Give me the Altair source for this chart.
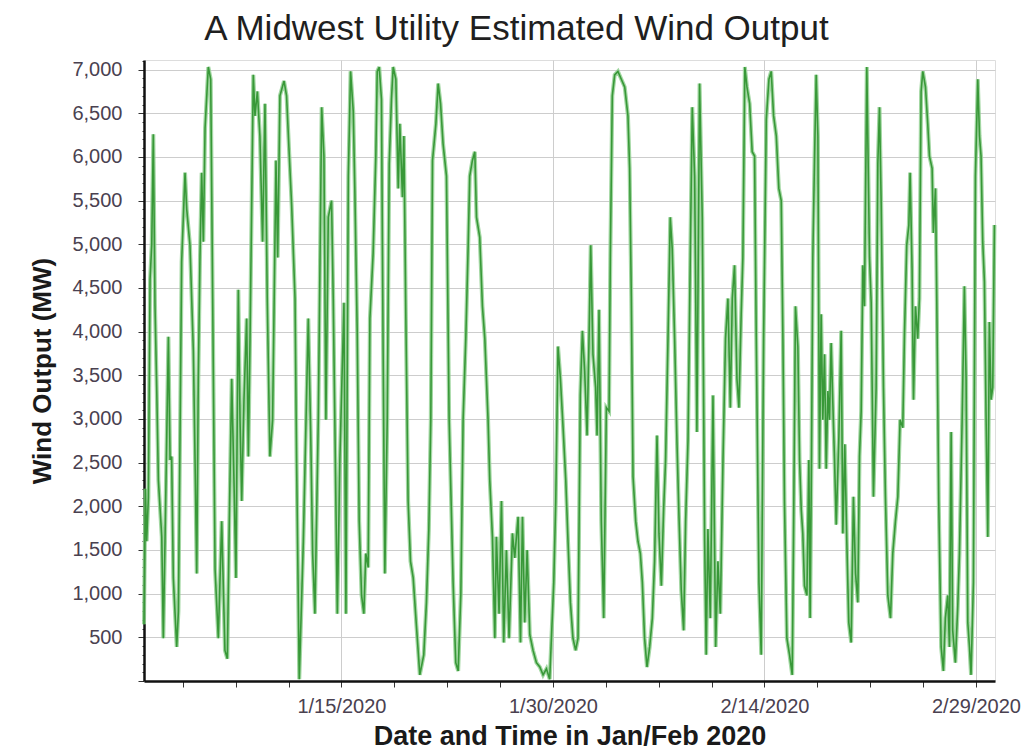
import altair as alt
import pandas as pd

# Estimated wind output, days since 2020-01-01 00:00 and megawatts
days = [
    0.00, 0.04, 0.10, 0.19, 0.31, 0.43, 0.55, 0.66, 0.78, 0.90, 1.02, 1.26, 1.37, 1.49, 1.73, 1.85,
    1.96, 2.08, 2.32, 2.44, 2.67, 2.91, 3.03, 3.26, 3.50, 3.62, 3.74, 3.85, 3.97, 4.09, 4.21, 4.33,
    4.56, 4.73, 4.87, 5.04, 5.27, 5.51, 5.74, 5.91, 6.05, 6.22, 6.38, 6.52, 6.69, 6.81, 6.93, 7.09,
    7.28, 7.40, 7.52, 7.75, 7.87, 8.04, 8.22, 8.41, 8.58, 8.74, 8.93, 9.12, 9.36, 9.48, 9.64, 9.93,
    10.11, 10.28, 10.47, 10.71, 10.82, 11.01, 11.30, 11.65, 11.82, 11.96, 12.12, 12.36, 12.60, 12.76,
    12.90, 13.07, 13.30, 13.42, 13.54, 13.71, 13.89, 14.18, 14.32, 14.49, 14.65,
    14.84, 14.95, 15.12, 15.26, 15.43, 15.59, 15.73, 15.90, 16.02, 16.25, 16.44, 16.54, 16.68, 16.84,
    16.96, 17.08, 17.25, 17.39, 17.55, 17.67, 17.86, 18.03, 18.14, 18.33, 18.43, 18.57, 18.73, 18.90,
    19.09, 19.32, 19.56, 19.84, 20.03, 20.20, 20.34, 20.46, 20.70, 20.86, 21.03, 21.21, 21.45, 21.64,
    21.92, 22.11, 22.28, 22.47, 22.63, 22.82, 22.99, 23.10, 23.29, 23.46, 23.58, 23.81, 24.00, 24.17,
    24.40, 24.52, 24.71, 24.88, 24.99, 25.18, 25.35, 25.51, 25.70, 25.89, 26.13, 26.29, 26.53, 26.70,
    26.84, 27.00, 27.17, 27.36, 27.59, 27.83, 28.07, 28.30, 28.54, 28.77, 29.06, 29.20, 29.36, 29.53,
    29.72, 29.91, 30.07, 30.24, 30.42, 30.61, 30.78, 30.94, 31.09, 31.25, 31.42, 31.56, 31.68, 31.84,
    32.03, 32.13, 32.27, 32.43, 32.60, 32.79, 32.98, 33.07, 33.21, 33.38, 33.61, 33.85, 34.09, 34.32,
    34.44, 34.56, 34.68, 34.87, 35.03, 35.20, 35.34, 35.50, 35.67, 35.86, 36.05, 36.21, 36.38, 36.52,
    36.69, 36.85, 36.99, 37.16, 37.32, 37.46, 37.63, 37.80, 37.94, 38.10, 38.27, 38.41, 38.58, 38.74,
    38.88, 39.05, 39.21, 39.40, 39.59, 39.76, 39.87, 39.99, 40.16, 40.35, 40.54, 40.70, 40.87, 41.06,
    41.24, 41.41, 41.58, 41.72, 41.88, 42.05, 42.19, 42.35, 42.47, 42.61, 42.76, 42.95, 43.13, 43.30,
    43.42, 43.61, 43.77, 43.94, 44.13, 44.32, 44.48, 44.65, 44.84, 45.02,
    45.19, 45.31, 45.42, 45.59, 45.78, 45.97, 46.06, 46.20, 46.37, 46.49, 46.61, 46.72, 46.84, 47.01,
    47.15, 47.24, 47.34, 47.43, 47.55, 47.67, 47.79, 47.90, 48.02, 48.14, 48.26, 48.38, 48.50, 48.61,
    48.73, 48.85, 48.97, 49.09, 49.28, 49.44, 49.56, 49.70, 49.84, 49.98, 50.15, 50.31, 50.46, 50.62,
    50.74, 50.86, 50.98, 51.09, 51.26, 51.45, 51.57, 51.73, 51.92, 52.04, 52.16, 52.28, 52.44, 52.58,
    52.75, 52.94, 53.10, 53.29, 53.46, 53.62, 53.81, 53.93, 54.09, 54.24, 54.33, 54.47, 54.57, 54.71,
    54.87, 54.99, 55.11, 55.23, 55.42, 55.58, 55.70, 55.89, 55.98, 56.13, 56.22, 56.36, 56.53, 56.69,
    56.83, 57.00, 57.12, 57.24, 57.35, 57.54, 57.71, 57.83, 58.02, 58.18, 58.30, 58.42, 58.54, 58.65,
    58.82, 58.96, 59.13, 59.25, 59.36, 59.48, 59.60, 59.72, 59.84, 59.95, 60.07, 60.19, 60.31,
]
mw = [
    650, 1300, 2200, 1600, 2100, 4600, 5000, 6260, 4300, 3360, 2300, 1650, 490, 1600, 3940, 2530,
    2570, 1180, 390, 800, 4800, 5820, 5400, 4990, 3780, 2530, 1230, 3440, 4850, 5820, 5030, 6330,
    7030, 6890, 4380, 1280, 490, 1830, 350, 255, 1830, 3460, 2300, 1180, 4480, 2990, 2060, 3220,
    4150, 2570, 3920, 6940, 6470, 6750, 6240, 5030, 6610, 4380, 2570, 2990, 5960, 4850, 6700, 6870,
    6700, 6100, 5450, 4380, 2530, 20, 1600, 4150, 2850, 1460, 770, 2990, 6570, 6010,
    2990, 5310, 5500, 4380, 2900, 770, 2530, 4330, 770, 5780, 6980,
    6520, 5640, 4000, 1830, 980, 770, 1460, 1300, 4150, 4900, 6010, 6980, 7030, 6660,
    3740, 1230, 2990, 5920, 6660, 7030, 6890, 5640, 6380, 5540, 6240, 4150, 2060, 1370,
    1180, 630, 70, 300, 900, 1740, 2990, 5960, 6380, 6840, 6610, 6150, 5780, 2990,
    1130, 210, 115, 1000, 2990, 3920, 4990, 5780, 5960, 6060, 5310, 5080, 4290, 3920,
    2990, 2300, 1650, 490, 1650, 770, 2060, 440, 1500, 490, 1690, 1410, 1880, 440,
    1880, 670, 1500, 530, 350, 210, 160, 70, 140, 20, 1130, 2060, 3830, 3460,
    2900, 2300, 1600, 900, 490, 350, 490, 3270, 4010, 3550, 2810, 3920, 4990, 3740,
    3360, 2810, 4250, 1830, 720, 3130, 3090, 4850, 6700, 6940, 6980, 6890, 6800, 6470,
    5870, 4380, 2340, 1830, 1600, 1460, 1130, 490, 160, 390, 720, 1370, 2810, 1690,
    1090, 1960, 2530, 3920, 5310, 4950, 3920, 2710, 1880, 1040, 580, 1830, 2760, 4850,
    6570, 5780, 2850, 6840, 5310, 1600, 300, 1740, 720, 3270, 390, 1370, 770, 2530,
    3920, 4380, 3130, 4380, 4760, 3460, 3130, 4200, 4850, 7030, 6800, 6610, 6060, 6010,
    3920, 1130, 300, 3920, 6430, 6890, 6980, 6470, 6240, 5640,
    5500, 3920, 2060, 490, 300, 70, 1600, 4290, 3830, 2530, 1960, 1690, 1090, 980,
    2530, 720, 2620, 4850, 5960, 6940, 6240, 2430, 4200, 2990, 3740, 2430, 3320, 2990,
    3870, 3180, 2530, 1790, 2810, 4010, 1690, 2710, 1600, 670, 440, 2110, 1230, 900,
    2570, 3090, 4760, 4290, 7030, 4850, 4330, 2110, 3360, 5920, 6570, 5450, 3360, 2110,
    980, 720, 1460, 1830, 2110, 2990, 2900, 3970, 4990, 5220, 5820, 4710, 3220, 4290,
    3920, 4380, 6750, 6980, 6800, 6380, 6010, 5870, 5130, 5640, 4380, 2060, 390, 115,
    720, 980, 390, 2850, 580, 210, 860, 1460, 2990, 4520, 3460, 670, 390, 70,
    1130, 5780, 6890, 6240, 6010, 5030, 4570, 2990, 1650, 4110, 3220, 3360, 5220,
]

start = pd.Timestamp("2020-01-01")
df = pd.DataFrame({"time": start + pd.to_timedelta(days, unit="D"), "mw": mw})

# x ticks every 90 hours, labelled and gridded at midnight (1/15, 1/30, 2/14, 2/29)
tick_times = [pd.Timestamp("2020-01-15") + pd.Timedelta(hours=90 * k) for k in range(-3, 13)]
x_ticks = [alt.DateTime(year=t.year, month=t.month, date=t.day, hours=t.hour) for t in tick_times]
y_ticks = list(range(0, 7101, 100))

FONT = "Liberation Sans"
LABEL_COLOR = "#4a4150"

x_axis = alt.Axis(
    values=x_ticks,
    labelExpr="hours(datum.value) === 0 ? timeFormat(datum.value, '%-m/%-d/%Y') : ''",
    labelOverlap=False,
    labelFlush=False,
    grid=True,
    gridColor="#cdcdcd",
    gridWidth=1,
    gridOpacity={"condition": {"test": "hours(datum.value) === 0", "value": 1}, "value": 0},
    tickSize=6,
    tickColor="#333333",
    domainColor="#111111",
    domainWidth=2.5,
    labelFont=FONT,
    labelFontSize=20,
    labelColor=LABEL_COLOR,
    labelPadding=9,
    titleFont=FONT,
    titleFontSize=27,
    titleFontWeight="bold",
    titleColor="#1a1a1a",
    titlePadding=7,
)

y_axis = alt.Axis(
    values=y_ticks,
    labelExpr="(datum.value % 500 === 0 && datum.value > 0) ? format(datum.value, ',') : ''",
    labelOverlap=False,
    grid=True,
    gridColor="#cdcdcd",
    gridWidth=1,
    gridOpacity={"condition": {"test": "datum.value % 500 === 0 && datum.value > 0", "value": 1}, "value": 0},
    tickSize={"condition": {"test": "datum.value % 500 === 0", "value": 6}, "value": 2},
    tickColor="#333333",
    domainColor="#111111",
    domainWidth=2.5,
    labelFont=FONT,
    labelFontSize=20,
    labelColor=LABEL_COLOR,
    labelPadding=16,
    titleFont=FONT,
    titleFontSize=26,
    titleFontWeight="bold",
    titleColor="#1a1a1a",
    titlePadding=16,
)

base = alt.Chart(df).encode(
    x=alt.X(
        "time:T",
        title="Date and Time in Jan/Feb 2020",
        scale=alt.Scale(
            domain=[
                alt.DateTime(year=2020, month=1, date=1),
                alt.DateTime(year=2020, month=3, date=1, hours=8, minutes=24),
            ]
        ),
        axis=x_axis,
    ),
    y=alt.Y(
        "mw:Q",
        title="Wind Output (MW)",
        scale=alt.Scale(domain=[0, 7110], nice=False),
        axis=y_axis,
    ),
)

halo = base.mark_line(color="#92d092", strokeWidth=4, opacity=0.85)
core = base.mark_line(color="#389838", strokeWidth=1.6)

chart = (
    alt.layer(halo, core)
    .properties(
        width=851,
        height=621,
        title=alt.TitleParams(
            "A Midwest Utility Estimated Wind Output",
            font=FONT,
            fontSize=35,
            fontWeight="normal",
            color="#1f1f1f",
            anchor="middle",
            dx=-53,
            offset=-31,
            baseline="bottom",
        ),
        padding={"left": 144, "top": 60, "right": 37, "bottom": 73},
        autosize=alt.AutoSizeParams(type="none"),
    )
    .configure_view(stroke=None)
    .configure(background="white")
)

chart.save("out.html", embed_options={"renderer": "svg", "actions": False})
